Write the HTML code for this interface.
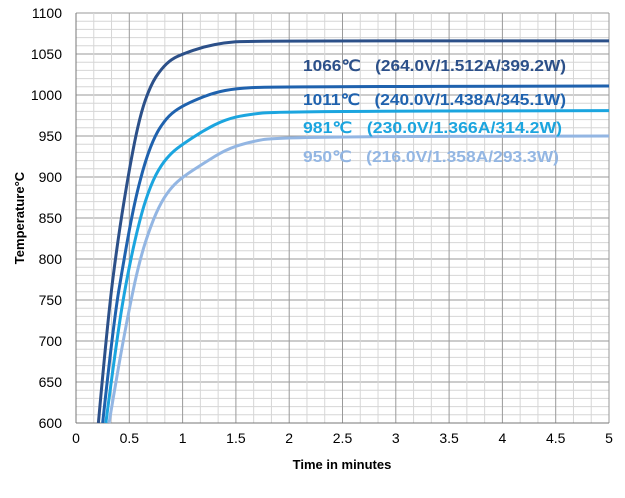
<!DOCTYPE html><html><head><style>body{margin:0;background:#fff}svg{display:block}</style></head><body>
<svg id="sv" width="625" height="498" xmlns="http://www.w3.org/2000/svg" font-family="Liberation Sans, sans-serif">
<rect width="625" height="498" fill="#fff"/>
<g id="grid"></g>
<g font-size="16" font-weight="bold">
<text x="303" y="71" fill="#2c5089" textLength="263" lengthAdjust="spacingAndGlyphs">1066℃ &#160;&#160;(264.0V/1.512A/399.2W)</text>
<text x="303" y="105" fill="#1f62ae" textLength="263" lengthAdjust="spacingAndGlyphs">1011℃ &#160;&#160;(240.0V/1.438A/345.1W)</text>
<text x="303" y="133" fill="#1ba5df" textLength="259" lengthAdjust="spacingAndGlyphs">981℃ &#160;&#160;(230.0V/1.366A/314.2W)</text>
<text x="303" y="162" fill="#93b6e3" textLength="256" lengthAdjust="spacingAndGlyphs">950℃ &#160;&#160;(216.0V/1.358A/293.3W)</text>
</g>
<text x="342" y="469" font-size="13" font-weight="bold" text-anchor="middle">Time in minutes</text>
<text transform="translate(24,218) rotate(-90)" font-size="13" font-weight="bold" text-anchor="middle">Temperature°C</text>
</svg>
<script>
var g=document.getElementById('grid'),s='';
var X=function(t){return 76+t*106.6},Y=function(v){return 423-(v-600)*0.82};
for(var v=600;v<=1100;v+=10){var y=Y(v);s+='<line x1="76" x2="609" y1="'+y+'" y2="'+y+'" stroke="'+(v%50?'#d6d6d6':'#9a9a9a')+'" stroke-width="1"/>';}
for(var i=0;i<=30;i++){var x=X(i/6);s+='<line y1="13" y2="423" x1="'+x+'" x2="'+x+'" stroke="'+(i%3?'#d6d6d6':'#9a9a9a')+'" stroke-width="1"/>';}
s+='<line x1="76" x2="609" y1="423" y2="423" stroke="#777"/><line x1="76" x2="76" y1="13" y2="423" stroke="#777"/>';
for(v=600;v<=1100;v+=50)s+='<text x="62" y="'+(Y(v)+5)+'" font-size="14" text-anchor="end">'+v+'</text>';
for(i=0;i<=10;i++)s+='<text x="'+X(i/2)+'" y="443" font-size="14" text-anchor="middle">'+(i/2)+'</text>';
function c(p,col){var P=p.map(function(q){return [X(q[0]),Y(q[1])]});var d='M'+P[0][0]+' '+P[0][1];
for(var k=1;k<P.length-1;k++){var mx=(P[k][0]+P[k+1][0])/2,my=(P[k][1]+P[k+1][1])/2;d+='Q'+P[k][0].toFixed(1)+' '+P[k][1].toFixed(1)+' '+mx.toFixed(1)+' '+my.toFixed(1);}
d+='L'+P[P.length-1][0]+' '+P[P.length-1][1];
s+='<path d="'+d+'" fill="none" stroke="'+col+'" stroke-width="3" stroke-linejoin="round"/>';}
c([[0.21,600],[0.3,730],[0.4,830],[0.5,910],[0.6,975],[0.7,1012],[0.8,1032],[0.9,1044],[1.0,1050],[1.2,1059],[1.4,1064],[1.6,1066],[5,1066]],'#2c5089');
c([[0.25,600],[0.35,720],[0.45,800],[0.55,870],[0.65,920],[0.75,953],[0.85,972],[0.95,983],[1.1,993],[1.3,1003],[1.5,1008],[1.8,1010],[5,1011]],'#1f62ae');
c([[0.28,600],[0.38,700],[0.48,780],[0.6,850],[0.7,890],[0.8,915],[0.9,930],[1.0,940],[1.2,957],[1.4,970],[1.6,976],[1.9,980],[5,981]],'#1ba5df');
c([[0.31,600],[0.4,670],[0.5,740],[0.6,800],[0.7,840],[0.8,870],[0.9,888],[1.0,900],[1.2,917],[1.4,933],[1.6,942],[1.9,949],[5,950]],'#93b6e3');
g.innerHTML=s;
</script>
</body></html>
